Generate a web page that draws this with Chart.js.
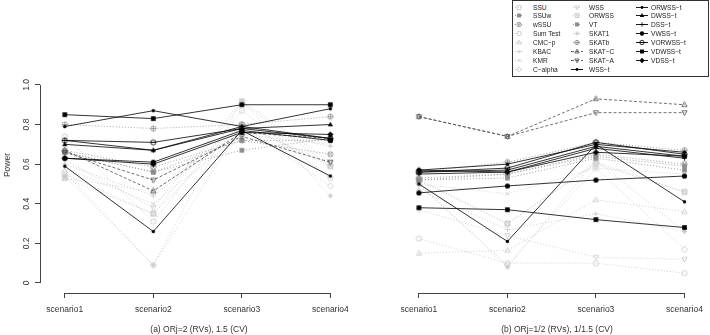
<!DOCTYPE html>
<html>
<head>
<meta charset="utf-8">
<script src="https://cdn.jsdelivr.net/npm/chart.js@4.4.1/dist/chart.umd.min.js"></script>
<style>
  body { margin: 0; background: #fff; font-family: "Liberation Sans", Arial, sans-serif; }
  #wrap { position: relative; width: 710px; height: 335px; overflow: hidden; }
  #chart { position: absolute; left: 0; top: 0; }
  #legend { position: absolute; left: 512px; top: 0; width: 197px; height: 77px; box-sizing: border-box; border: 1px solid #333; background: #fff; z-index: 2; }
  .item { position: absolute; height: 9px; line-height: 9px; font-size: 6.6px; color: #222; white-space: nowrap; }
  .item canvas { position: absolute; top: 0; }
  .caption { position: absolute; top: 324px; font-size: 8.5px; color: #333; transform: translateX(-50%); white-space: nowrap; }
</style>
</head>
<body>
<div id="wrap">
  <canvas id="chart" width="710" height="335"></canvas>
  <div id="legend"></div>
</div>
<script>
// Etiquetas
const tickLabels = ['scenario1', 'scenario2', 'scenario3', 'scenario4', 'scenario1', 'scenario2', 'scenario3', 'scenario4'];
const xPos = [1, 2, 3, 4, 5, 6, 7, 8];
const yTicks = [0, 0.2, 0.4, 0.6, 0.8, 1.0];
const yTickLabels = ['0', '0.2', '0.4', '0.6', '0.8', '1.0'];
const captions = ['(a) ORj=2 (RVs), 1.5 (CV)', '(b) ORj=1/2 (RVs), 1/1.5 (CV)'];
const seriesNames = ['SSU', 'SSUw', 'wSSU', 'Sum Test', 'CMC\u2212p', 'KBAC', 'KMR', 'C\u2212alpha',
  'WSS', 'ORWSS', 'VT', 'SKAT1', 'SKATb', 'SKAT\u2212C', 'SKAT\u2212A', 'WSS\u2212t',
  'ORWSS\u2212t', 'DWSS\u2212t', 'DSS\u2212t', 'VWSS\u2212t', 'VORWSS\u2212t', 'VDWSS\u2212t', 'VDSS\u2212t'];

// Valores: panel (a) escenarios 1-4, panel (b) escenarios 1-4
const ssu      = [0.55, 0.35, 0.80, 0.59, 0.52, 0.30, 0.61, 0.46];
const ssuw     = [0.66, 0.56, 0.72, 0.72, 0.52, 0.55, 0.64, 0.59];
const wssu     = [0.67, 0.585, 0.72, 0.65, 0.53, 0.55, 0.65, 0.60];
const sumTest  = [0.74, 0.31, 0.87, 0.53, 0.225, 0.10, 0.10, 0.05];
const cmcp     = [0.53, 0.46, 0.80, 0.60, 0.15, 0.165, 0.42, 0.36];
const kbac     = [0.60, 0.44, 0.78, 0.69, 0.47, 0.27, 0.35, 0.26];
const kmr      = [0.58, 0.40, 0.75, 0.70, 0.50, 0.45, 0.58, 0.55];
const calpha   = [0.56, 0.09, 0.80, 0.49, 0.50, 0.09, 0.58, 0.17];
const wss      = [0.62, 0.38, 0.92, 0.61, 0.37, 0.24, 0.13, 0.12];
const orwss    = [0.53, 0.35, 0.91, 0.59, 0.52, 0.30, 0.60, 0.46];
const vt       = [0.66, 0.56, 0.67, 0.73, 0.52, 0.53, 0.63, 0.57];
const skat1    = [0.54, 0.09, 0.92, 0.44, 0.50, 0.08, 0.62, 0.26];
const skatb    = [0.80, 0.78, 0.80, 0.84, 0.56, 0.61, 0.71, 0.67];
const skatC    = [0.67, 0.465, 0.76, 0.73, 0.84, 0.74, 0.93, 0.90];
const skatA    = [0.66, 0.52, 0.74, 0.61, 0.84, 0.74, 0.86, 0.86];
const wssT     = [0.79, 0.87, 0.79, 0.88, 0.57, 0.60, 0.70, 0.66];
const orwssT   = [0.59, 0.26, 0.77, 0.54, 0.50, 0.21, 0.70, 0.41];
const dwssT    = [0.70, 0.67, 0.78, 0.80, 0.56, 0.57, 0.69, 0.64];
const dssT     = [0.72, 0.67, 0.79, 0.73, 0.55, 0.56, 0.68, 0.63];
const vwssT    = [0.63, 0.61, 0.77, 0.72, 0.455, 0.49, 0.52, 0.54];
const vorwssT  = [0.72, 0.71, 0.78, 0.73, 0.56, 0.58, 0.71, 0.65];
const vdwssT   = [0.85, 0.83, 0.90, 0.90, 0.38, 0.37, 0.32, 0.28];
const vdssT    = [0.63, 0.60, 0.76, 0.75, 0.57, 0.56, 0.66, 0.64];

const seriesValues = [ssu, ssuw, wssu, sumTest, cmcp, kbac, kmr, calpha,
  wss, orwss, vt, skat1, skatb, skatC, skatA, wssT,
  orwssT, dwssT, dssT, vwssT, vorwssT, vdwssT, vdssT];

// Estilos
const LIGHT = '#c6c6c6', MID = '#8c8c8c', DARK = '#4d4d4d', BLACK = '#000';
const DOT = [1, 2], DASH = [3, 2], SOLID = [];
const styles = [
  { color: LIGHT, sym: 'sq', dash: DOT, layer: 3 },
  { color: MID, sym: 'sqf', dash: DOT, layer: 2 },
  { color: MID, sym: 'cx', dash: DOT, layer: 2 },
  { color: LIGHT, sym: 'circ', dash: DOT, layer: 3 },
  { color: LIGHT, sym: 'tri', dash: DOT, layer: 3 },
  { color: LIGHT, sym: 'plus', dash: DOT, layer: 3 },
  { color: LIGHT, sym: 'x', dash: DOT, layer: 3 },
  { color: LIGHT, sym: 'diam', dash: DOT, layer: 3 },
  { color: LIGHT, sym: 'tridown', dash: DOT, layer: 3 },
  { color: LIGHT, sym: 'sqx', dash: DOT, layer: 3 },
  { color: MID, sym: 'sqf', dash: DOT, layer: 2 },
  { color: LIGHT, sym: 'star', dash: DOT, layer: 3 },
  { color: MID, sym: 'cplus', dash: DOT, layer: 2 },
  { color: DARK, sym: 'tri', dash: DASH, layer: 1 },
  { color: DARK, sym: 'tridown', dash: DASH, layer: 1 },
  { color: BLACK, sym: 'dot', dash: SOLID, layer: 0 },
  { color: BLACK, sym: 'dot', dash: SOLID, layer: 0 },
  { color: BLACK, sym: 'trif', dash: SOLID, layer: 0 },
  { color: BLACK, sym: 'plus', dash: SOLID, layer: 0 },
  { color: BLACK, sym: 'circf', dash: SOLID, layer: 0 },
  { color: BLACK, sym: 'cminus', dash: SOLID, layer: 0 },
  { color: BLACK, sym: 'sqf', dash: SOLID, layer: 0 },
  { color: BLACK, sym: 'diamf', dash: SOLID, layer: 0 }
];

// Dibujar símbolos tipo R
function drawSym(ctx, sym, x, y, r, color) {
  ctx.save();
  ctx.strokeStyle = color;
  ctx.fillStyle = color;
  ctx.lineWidth = 0.8;
  ctx.setLineDash([]);
  ctx.beginPath();
  const k = r * 0.72;
  if (sym === 'sq' || sym === 'sqx') {
    ctx.rect(x - r * 0.9, y - r * 0.9, r * 1.8, r * 1.8);
    if (sym === 'sqx') {
      ctx.moveTo(x - r * 0.9, y - r * 0.9); ctx.lineTo(x + r * 0.9, y + r * 0.9);
      ctx.moveTo(x + r * 0.9, y - r * 0.9); ctx.lineTo(x - r * 0.9, y + r * 0.9);
    }
    ctx.stroke();
  } else if (sym === 'sqf') {
    ctx.rect(x - r * 0.9, y - r * 0.9, r * 1.8, r * 1.8);
    ctx.fill();
  } else if (sym === 'circ' || sym === 'cplus' || sym === 'cx' || sym === 'cminus') {
    ctx.arc(x, y, r, 0, Math.PI * 2);
    if (sym === 'cplus') {
      ctx.moveTo(x - r, y); ctx.lineTo(x + r, y);
      ctx.moveTo(x, y - r); ctx.lineTo(x, y + r);
    } else if (sym === 'cx') {
      ctx.moveTo(x - k, y - k); ctx.lineTo(x + k, y + k);
      ctx.moveTo(x + k, y - k); ctx.lineTo(x - k, y + k);
    } else if (sym === 'cminus') {
      ctx.moveTo(x - r, y); ctx.lineTo(x + r, y);
    }
    ctx.stroke();
  } else if (sym === 'circf' || sym === 'dot') {
    ctx.arc(x, y, sym === 'dot' ? r * 0.65 : r, 0, Math.PI * 2);
    ctx.fill();
  } else if (sym === 'tri' || sym === 'trif') {
    ctx.moveTo(x, y - r * 1.1);
    ctx.lineTo(x + r, y + r * 0.7);
    ctx.lineTo(x - r, y + r * 0.7);
    ctx.closePath();
    sym === 'tri' ? ctx.stroke() : ctx.fill();
  } else if (sym === 'tridown') {
    ctx.moveTo(x, y + r * 1.1);
    ctx.lineTo(x + r, y - r * 0.7);
    ctx.lineTo(x - r, y - r * 0.7);
    ctx.closePath();
    ctx.stroke();
  } else if (sym === 'plus' || sym === 'star') {
    ctx.moveTo(x - r, y); ctx.lineTo(x + r, y);
    ctx.moveTo(x, y - r); ctx.lineTo(x, y + r);
    if (sym === 'star') {
      ctx.moveTo(x - k, y - k); ctx.lineTo(x + k, y + k);
      ctx.moveTo(x + k, y - k); ctx.lineTo(x - k, y + k);
    }
    ctx.stroke();
  } else if (sym === 'x') {
    ctx.moveTo(x - k, y - k); ctx.lineTo(x + k, y + k);
    ctx.moveTo(x + k, y - k); ctx.lineTo(x - k, y + k);
    ctx.stroke();
  } else if (sym === 'diam' || sym === 'diamf') {
    ctx.moveTo(x, y - r * 1.2); ctx.lineTo(x + r * 1.2, y);
    ctx.lineTo(x, y + r * 1.2); ctx.lineTo(x - r * 1.2, y);
    ctx.closePath();
    sym === 'diam' ? ctx.stroke() : ctx.fill();
  }
  ctx.restore();
}

function symCanvas(sym, color, r) {
  const c = document.createElement('canvas');
  c.width = c.height = Math.ceil(r * 2.6 + 2);
  drawSym(c.getContext('2d'), sym, c.width / 2, c.height / 2, r, color);
  return c;
}

// Datasets
const datasets = seriesNames.map((name, i) => {
  const st = styles[i];
  return {
    label: name,
    data: seriesValues[i].map((v, j) => ({ x: xPos[j], y: v })),
    borderColor: st.color,
    borderWidth: 0.8,
    borderDash: st.dash,
    pointStyle: symCanvas(st.sym, st.color, 2.6),
    pointRadius: 3,
    order: st.layer,
    fill: false,
    tension: 0,
    segment: {
      borderColor: ctx => ctx.p0DataIndex === 3 ? 'rgba(0,0,0,0)' : undefined
    }
  };
});

// Ejes estilo R: líneas solo entre primera y última marca
const rAxes = {
  id: 'rAxes',
  afterDraw(chart) {
    const { ctx, chartArea, scales: { x, y } } = chart;
    ctx.save();
    ctx.strokeStyle = '#444';
    ctx.lineWidth = 1;
    ctx.beginPath();
    const xl = Math.round(chartArea.left) + 0.5;
    ctx.moveTo(xl, y.getPixelForValue(yTicks[0]));
    ctx.lineTo(xl, y.getPixelForValue(yTicks[yTicks.length - 1]));
    const yb = Math.round(chartArea.bottom) + 0.5;
    [[0, 3], [4, 7]].forEach(([a, b]) => {
      ctx.moveTo(x.getPixelForValue(xPos[a]), yb);
      ctx.lineTo(x.getPixelForValue(xPos[b]), yb);
    });
    ctx.stroke();
    ctx.restore();
  }
};

const FONT = { family: '"Liberation Sans", Arial, sans-serif', size: 8.5 };

new Chart(document.getElementById('chart'), {
  type: 'line',
  data: { datasets },
  plugins: [rAxes],
  options: {
    responsive: false,
    animation: false,
    layout: { padding: { top: 37, right: 1, left: 0, bottom: 0 } },
    plugins: { legend: { display: false }, tooltip: { enabled: false } },
    scales: {
      x: {
        type: 'linear',
        min: 0.72,
        max: 8.2,
        afterBuildTicks: s => { s.ticks = xPos.map(v => ({ value: v })); },
        afterFit: s => { s.height = 42; },
        border: { display: false },
        grid: { drawOnChartArea: false, tickLength: 5, color: '#444' },
        ticks: {
          color: '#333',
          font: FONT,
          padding: 7,
          maxRotation: 0,
          autoSkip: false,
          callback: v => tickLabels[xPos.indexOf(v)]
        }
      },
      y: {
        min: -0.0505,
        max: 1.242,
        afterBuildTicks: s => { s.ticks = yTicks.map(v => ({ value: v })); },
        afterFit: s => { s.width = 40; },
        border: { display: false },
        grid: { drawOnChartArea: false, tickLength: 5, color: '#444' },
        title: { display: true, text: 'Power', color: '#333', font: FONT, padding: { top: 3, bottom: 0 } },
        ticks: {
          color: '#333',
          font: FONT,
          padding: 2,
          minRotation: 90,
          maxRotation: 90,
          crossAlign: 'center',
          callback: v => yTickLabels[yTicks.indexOf(v)]
        }
      }
    }
  }
});

// Leyenda
const legendEl = document.getElementById('legend');
const colSym = [6, 64, 129];
const colText = [20, 76, 138];
seriesNames.forEach((name, i) => {
  const col = Math.floor(i / 8), row = i % 8;
  const st = styles[i];
  const item = document.createElement('div');
  item.className = 'item';
  item.style.left = '0px';
  item.style.top = (1.5 + row * 8.9) + 'px';
  const c = document.createElement('canvas');
  c.width = 16; c.height = 9;
  c.style.left = (colSym[col] - 8) + 'px';
  const g = c.getContext('2d');
  g.strokeStyle = st.color;
  g.lineWidth = 0.9;
  g.setLineDash(st.dash);
  g.beginPath();
  g.moveTo(col === 2 || st.layer < 2 ? 2 : 4, 4.5);
  g.lineTo(col === 2 || st.layer < 2 ? 14 : 12, 4.5);
  g.stroke();
  drawSym(g, st.sym, 8, 4.5, 2.2, st.color);
  item.appendChild(c);
  const t = document.createElement('span');
  t.textContent = name;
  t.style.position = 'absolute';
  t.style.left = colText[col] + 'px';
  item.appendChild(t);
  legendEl.appendChild(item);
});

// Títulos de paneles
captions.forEach((txt, i) => {
  const d = document.createElement('div');
  d.className = 'caption';
  d.textContent = txt;
  d.style.left = (i === 0 ? 199 : 557) + 'px';
  document.getElementById('wrap').appendChild(d);
});
</script>
</body>
</html>
